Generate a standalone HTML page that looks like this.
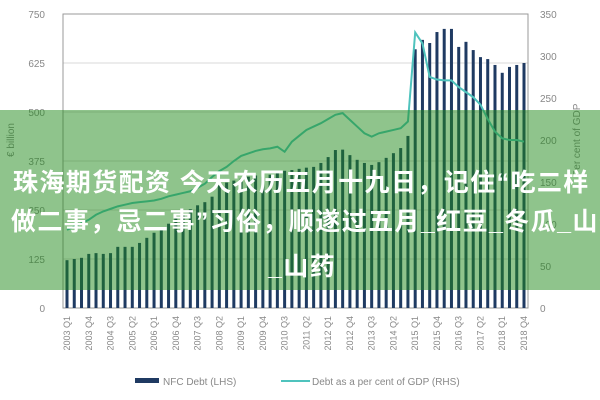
<!DOCTYPE html>
<html><head><meta charset="utf-8">
<style>
html,body{margin:0;padding:0;background:#fff;}
#wrap{position:relative;width:600px;height:400px;overflow:hidden;font-family:"Liberation Sans",sans-serif;}
#banner{position:absolute;left:0;top:110px;width:600px;height:180px;background:rgba(31,137,25,0.5);}
.bl{position:absolute;white-space:nowrap;color:#fff;font-weight:bold;font-size:25px;line-height:30px;letter-spacing:1.4px;font-family:"Liberation Sans","Noto Sans CJK SC",sans-serif;}
</style></head><body>
<div id="wrap">
<svg id="chart" width="600" height="400"></svg>
<div id="banner"></div>
<div class="bl" style="left:13px;top:168px;">珠海期货配资 今天农历五月十九日，记住“吃二样</div>
<div class="bl" style="left:11px;top:207px;">做二事，忌二事”习俗，顺遂过五月_红豆_冬瓜_山药</div>
<div class="bl" style="left:268px;top:252px;">_山药</div>
</div>
<script>
const leftTicks=[0,125,250,375,500,625,750];
const rightTicks=[0,50,100,150,200,250,300,350];
const years=[];for(let y=2003;y<=2018;y++)for(let q=1;q<=4;q++)years.push(y+' Q'+q);
const nfcDebt=[122,125,128,138,140,138,140,156,156,156,166,179,192,205,215,228,240,252,262,270,284,314,320,325,330,335,338,335,340,345,350,352,355,358,360,370,385,403,404,390,378,370,365,372,383,395,408,439,660,684,676,704,712,712,666,679,658,640,635,620,600,615,620,625];
const debtPct=[93,97,101,105,111,115,118,121,123,125,126,127,128,130,133,135,137,139,143,148,156,163,168,175,181,184,187,189,190,192,186,198,205,212,216,220,225,230,232,224,216,208,204,208,210,212,214,222,328,315,275,272,271,271,263,257,251,242,225,210,202,200,200,198];

const svg=document.getElementById('chart');const NS='http://www.w3.org/2000/svg';
function mk(t,a,p){const e=document.createElementNS(NS,t);for(const k in a)e.setAttribute(k,a[k]);(p||svg).appendChild(e);return e;}
const L=63,R=528,T=14,B=308;
const yL=v=>B-v*(B-T)/750, yR=v=>B-v*(B-T)/350;
const step=(R-L-8)/(years.length-1);
const xC=i=>L+4+i*step;
let g;
leftTicks.forEach(v=>{
  g=mk('line',{x1:L,x2:R,y1:yL(v),y2:yL(v),stroke:'#d9d9d9','stroke-width':1});
  
  g=mk('text',{x:L-18,y:yL(v)+4,'text-anchor':'end','font-size':10,fill:'#888'});g.textContent=v;
  
});
rightTicks.forEach(v=>{
  g=mk('text',{x:R+12,y:yR(v)+4,'text-anchor':'start','font-size':10,fill:'#888'});g.textContent=v;
  
});
g=mk('rect',{x:L,y:T,width:R-L,height:B-T,fill:'none',stroke:'#999','stroke-width':1});

g=mk('text',{transform:'translate(14,140) rotate(-90)','text-anchor':'middle','font-size':10,fill:'#888'});g.textContent='€ billion';

g=mk('text',{transform:'translate(580,140) rotate(-90)','text-anchor':'middle','font-size':10,fill:'#888'});g.textContent='Per cent of GDP';

nfcDebt.forEach((v,i)=>{
  g=mk('rect',{x:xC(i)-1.5,y:yL(v),width:3,height:B-yL(v),fill:'#1f3a62'});
  
});
g=mk('polyline',{points:debtPct.map((v,i)=>xC(i)+','+yR(v)).join(' '),fill:'none',stroke:'#4fc3bd','stroke-width':2});

years.forEach((y,i)=>{ if(i%3) return;
  g=mk('text',{transform:'translate('+(xC(i)+3)+',316) rotate(-90)','text-anchor':'end','font-size':9,fill:'#888'});g.textContent=y;
  
});
g=mk('rect',{x:135,y:378,width:24,height:5,fill:'#1f3a62'});

g=mk('text',{x:163,y:385,'font-size':10,fill:'#888'});g.textContent='NFC Debt (LHS)';

g=mk('line',{x1:281,x2:310,y1:381,y2:381,stroke:'#4fc3bd','stroke-width':2});

g=mk('text',{x:312,y:385,'font-size':10,fill:'#888'});g.textContent='Debt as a per cent of GDP (RHS)';

</script>
</body></html>
